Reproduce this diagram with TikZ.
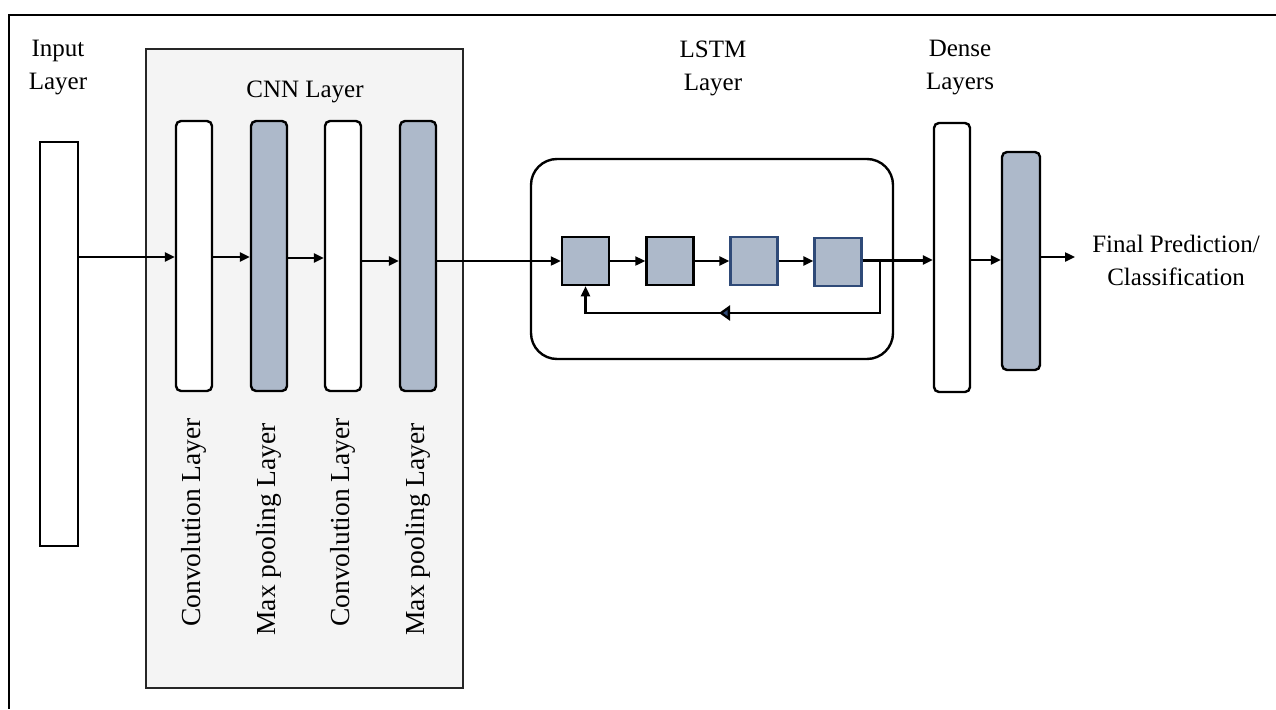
\documentclass[tikz,border=0pt]{standalone}
\usepackage{fontspec}
\setmainfont{Liberation Serif}
\usetikzlibrary{arrows.meta}
\definecolor{barfill}{HTML}{ADB9CA}
\definecolor{panelgray}{HTML}{F4F4F4}
\definecolor{navy}{HTML}{2F4A78}

\begin{document}
\begin{tikzpicture}[x=1pt,y=-1pt,
  lbl/.style={font=\fontsize{25}{33}\selectfont, align=center, inner sep=0pt},
  vlbl/.style={font=\fontsize{27.5}{33}\selectfont, rotate=90, anchor=east, inner sep=0pt},
  bar/.style={draw=black, line width=2.4pt, rounded corners=5pt, inner sep=0pt,
              minimum width=36pt, minimum height=270pt},
  whitebar/.style={bar, fill=white},
  graybar/.style={bar, fill=barfill},
  cell/.style={draw=black, line width=2.5pt, fill=barfill, inner sep=0pt,
               minimum width=47pt, minimum height=48pt},
  navycell/.style={cell, draw=navy, line width=2.2pt},
  flow/.style={line width=2.3pt, -{Triangle[length=10pt,width=9pt]}},
  link/.style={line width=2.3pt}
]
\useasboundingbox (0,0) rectangle (1276,709);

% outer frame (top and left edges)
\draw[line width=2.4pt] (1276,15) -- (9,15) -- (9,709);

% CNN panel
\node[draw=black!85, line width=2.4pt, fill=panelgray, minimum width=317pt,
      minimum height=639pt, inner sep=0pt] (cnn) at (304.5,368.5) {};

% labels above the stages
\node[lbl] (inlbl)    at (58,68)    {Input\\Layer};
\node[lbl, anchor=base] (cnnlbl) at (305,97) {CNN Layer};
\node[lbl] (lstmlbl)  at (713,68)   {LSTM\\Layer};
\node[lbl] (denselbl) at (960,68)   {Dense\\Layers};
\node[lbl] (outlbl)   at (1176,260) {Final Prediction/\\Classification};

% input layer
\node[draw=black, line width=2.4pt, fill=white, inner sep=0pt,
      minimum width=38pt, minimum height=404pt] (inp) at (59,344) {};

% convolution / pooling stack
\node[whitebar] (conv1) at (194,256) {};
\node[graybar]  (pool1) at (269,256) {};
\node[whitebar] (conv2) at (343,256) {};
\node[graybar]  (pool2) at (418,256) {};

\node[vlbl] (conv1lbl) at (194,418) {Convolution Layer};
\node[vlbl] (pool1lbl) at (269,423) {Max pooling Layer};
\node[vlbl] (conv2lbl) at (343,418) {Convolution Layer};
\node[vlbl] (pool2lbl) at (418,423) {Max pooling Layer};

% LSTM block
\node[draw=black, line width=2.4pt, rounded corners=26pt, inner sep=0pt,
      minimum width=362pt, minimum height=200pt] (lstm) at (712,259) {};
\node[cell]     (c1) at (585.5,261) {};
\node[cell]     (c2) at (670,261)   {};
\node[navycell] (c3) at (754,261)   {};
\node[navycell] (c4) at (838,262)   {};

% dense layers
\node[bar, fill=white, minimum height=269pt] (d1) at (952,257.5) {};
\node[bar, fill=barfill, minimum width=38pt, minimum height=218pt] (d2) at (1021,261) {};

% row levels and loop corners
\coordinate (rowA) at (0,257);
\coordinate (rowB) at (0,258);
\coordinate (rowC) at (0,261);
\coordinate (rowD) at (0,260);
\coordinate (loopR) at (880,313);
\coordinate (loopM) at (719,313);
\coordinate (outend) at (1075,257);

% forward flow through the CNN
\draw[flow] (inp.east |- rowA) -- (conv1.west |- rowA);
\draw[flow] (conv1.east |- rowA) -- (pool1.west |- rowA);
\draw[flow] (pool1.east |- rowB) -- (conv2.west |- rowB);
\draw[flow] (conv2.east |- rowC) -- (pool2.west |- rowC);
\draw[flow] (pool2.east |- rowC) -- (c1.west);

% recurrent chain
\draw[flow] (c1) -- (c2);
\draw[flow] (c2) -- (c3);
\draw[flow] (c3.east) -- (c4.west |- c3);

% feedback loop
\draw[link] (c4.east |- rowD) -- (loopR |- rowD) -- (loopR) -- (loopM);
\draw[line width=2.3pt, -{Triangle[length=11pt,width=15pt,fill=navy]}, draw=black]
  (loopR) -- (loopM);
\draw[flow] (loopM) -- (c1.south |- loopR) -- (c1.south);

% into and out of the dense layers
\draw[line width=3pt, -{Triangle[length=10pt,width=9pt]}] (c4.east |- rowD) -- (d1.west |- rowD);
\draw[flow] (d1.east |- rowD) -- (d2.west |- rowD);
\draw[flow] (d2.east |- outend) -- (outend);
\end{tikzpicture}
\end{document}
